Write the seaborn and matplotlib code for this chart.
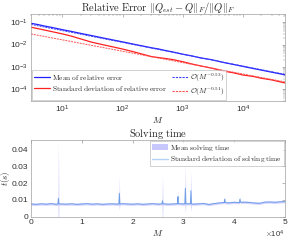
import numpy as np
import pandas as pd
import matplotlib
matplotlib.use("Agg")
import matplotlib.pyplot as plt
import seaborn as sns
from matplotlib.ticker import FuncFormatter
from matplotlib.lines import Line2D
from matplotlib.patches import Patch

# ---------------- data: relative error ----------------
M_err = [3, 4, 5, 7, 10, 14, 20, 30, 50, 70, 100, 150, 200, 300, 400, 500, 700,
         1000, 1500, 2000, 3000, 5000, 7000, 10000, 15000, 20000, 30000, 50000]
mean_err = [0.090, 0.078, 0.068, 0.057, 0.0465, 0.039, 0.0318, 0.0255, 0.0192,
            0.0160, 0.0132, 0.0105, 0.0090, 0.0072, 0.0063, 0.0055, 0.0046,
            0.0037, 0.0030, 0.0025, 0.0021, 0.00153, 0.00128, 0.00105, 0.00084,
            0.00072, 0.00058, 0.00044]
std_err = [0.060, 0.051, 0.045, 0.037, 0.030, 0.024, 0.018, 0.013, 0.0095,
           0.0078, 0.0063, 0.0048, 0.0039, 0.0029, 0.0026, 0.0024, 0.0021,
           0.0017, 0.0013, 0.0011, 0.00088, 0.00063, 0.00054, 0.00043, 0.00037,
           0.00031, 0.00026, 0.00019]
fit_mean_coef, fit_mean_exp = 0.080, -0.53
fit_std_coef, fit_std_exp = 0.030, -0.51
M_fit = [3, 50000]

# ---------------- data: solving time ----------------
M_base = list(range(0, 50001, 1000))
t_base = [0.0076, 0.0074, 0.0077, 0.0075, 0.0078, 0.0074, 0.0076, 0.0075, 0.0077, 0.0074,
          0.0076, 0.0078, 0.0075, 0.0077, 0.0074, 0.0076, 0.0077, 0.0075, 0.0078, 0.0076,
          0.0075, 0.0077, 0.0074, 0.0076, 0.0078, 0.0075, 0.0077, 0.0075, 0.0076, 0.0078,
          0.0076, 0.0077, 0.0075, 0.0077, 0.0079, 0.0073, 0.0078, 0.0082, 0.0085, 0.0083,
          0.0086, 0.0084, 0.0087, 0.0085, 0.0082, 0.0080, 0.0087, 0.0088, 0.0086, 0.0089,
          0.0090]
s_base = [0.0007] * len(M_base)
M_spk = [5300, 5400, 5500, 17300, 17400, 17500, 25800, 25900, 26000, 28850, 28950, 29050,
         30300, 30400, 30500, 31400, 31500, 31600, 38050, 38150, 38250, 41050, 41150, 41250]
t_spk = [0.0076, 0.0110, 0.0076, 0.0076, 0.0140, 0.0076, 0.0077, 0.0095, 0.0077, 0.0078,
         0.0120, 0.0078, 0.0077, 0.0170, 0.0077, 0.0077, 0.0155, 0.0077, 0.0084, 0.0105,
         0.0084, 0.0086, 0.0105, 0.0086]
s_spk = [0.0007, 0.0340, 0.0007, 0.0007, 0.0100, 0.0007, 0.0007, 0.0155, 0.0007, 0.0007,
         0.0050, 0.0007, 0.0007, 0.0150, 0.0007, 0.0007, 0.0125, 0.0007, 0.0007, 0.0015,
         0.0007, 0.0007, 0.0015, 0.0007]

# ---------------- style ----------------
sns.set_theme(style="white")
plt.rcParams["font.family"] = ["Liberation Sans", "DejaVu Sans"]
plt.rcParams["mathtext.fontset"] = "cm"
plt.rcParams["axes.edgecolor"] = "#a0a0a0"
plt.rcParams["axes.linewidth"] = 0.5

fig = plt.figure(figsize=(2.99, 2.40), dpi=100)
ax1 = fig.add_axes([0.1037, 0.580, 0.849, 0.3625])
ax2 = fig.add_axes([0.1037, 0.097, 0.849, 0.321])

C_MEAN, C_STD = "#2020ff", "#ff2020"
C_FM, C_FS = "#4040ff", "#ff5050"
C_BAND, C_LINE = "#c8c8ff", "#6e9ee8"

# ---------------- top panel ----------------
df_err = pd.DataFrame({"M": M_err, "mean": mean_err, "std": std_err})
sns.lineplot(data=df_err, x="M", y="mean", ax=ax1, color=C_MEAN, lw=0.9, legend=False)
sns.lineplot(data=df_err, x="M", y="std", ax=ax1, color=C_STD, lw=0.9, legend=False)
Mf = np.array(M_fit, dtype=float)
ax1.plot(Mf, fit_mean_coef * (Mf / 3.0) ** fit_mean_exp, color=C_FM, ls=(0, (2, 1)), lw=0.7)
ax1.plot(Mf, fit_std_coef * (Mf / 3.0) ** fit_std_exp, color=C_FS, ls=(0, (2, 1)), lw=0.7)
ax1.set_xscale("log")
ax1.set_yscale("log")
ax1.set_xlim(3, 50000)
ax1.set_ylim(3e-5, 0.24)
ax1.set_title(r"$\mathrm{Relative\ Error}\ \|Q_{est}-Q\|_F/\|Q\|_F$", fontsize=7.5, pad=2)
ax1.set_xlabel(r"$M$", fontsize=6.5, labelpad=0)
ax1.set_ylabel("")
h1 = [Line2D([], [], color=C_MEAN, lw=0.9),
      Line2D([], [], color=C_STD, lw=0.9),
      Line2D([], [], color=C_FM, lw=0.8, ls=(0, (2, 1))),
      Line2D([], [], color=C_FS, lw=0.8, ls=(0, (2, 1)))]
l1 = [r"$\mathrm{Mean\ of\ relative\ error}$",
      r"$\mathrm{Standard\ deviation\ of\ relative\ error}$",
      r"$\mathcal{O}(M^{-0.53})$", r"$\mathcal{O}(M^{-0.51})$"]
leg = ax1.legend(h1, l1, ncol=2, loc="lower left",
                 fontsize=5.3, frameon=True, fancybox=False, edgecolor="#b0b0b0",
                 handlelength=2.2, handletextpad=0.3, columnspacing=0.6,
                 borderpad=0.25, labelspacing=0.2, borderaxespad=0.15)
leg.get_frame().set_linewidth(0.5)

# ---------------- bottom panel ----------------
df_t = pd.DataFrame({"M": M_base + M_spk, "mean": t_base + t_spk, "std": s_base + s_spk})
df_t = df_t.sort_values("M").reset_index(drop=True)
ax2.fill_between(df_t["M"], df_t["mean"] - df_t["std"], df_t["mean"] + df_t["std"],
                 color=C_BAND, alpha=0.8, lw=0)
sns.lineplot(data=df_t, x="M", y="mean", ax=ax2, color=C_LINE, lw=0.7, sort=False,
             legend=False)
ax2.set_xlim(0, 50000)
ax2.set_ylim(0, 0.046)
ax2.set_xticks([0, 10000, 20000, 30000, 40000, 50000])
ax2.xaxis.set_major_formatter(FuncFormatter(lambda v, p: f"{v / 1e4:g}"))
ax2.text(1.0, -0.225, r"$\times\mathdefault{10^{4}}$", transform=ax2.transAxes,
         ha="right", va="center", fontsize=5.5, color="#303030")
ax2.set_yticks([0, 0.01, 0.02, 0.03, 0.04])
ax2.set_yticklabels(["0", "0.01", "0.02", "0.03", "0.04"])
ax2.set_title(r"$\mathrm{Solving\ time}$", fontsize=7.5, pad=2)
ax2.set_xlabel(r"$M$", fontsize=6.5, labelpad=1)
ax2.set_ylabel(r"$t(s)$", fontsize=6.5)
ax2.yaxis.set_label_coords(-0.075, 0.5)
h2 = [Patch(facecolor=C_BAND, edgecolor="none"),
      Line2D([], [], color="#b4d4f4", lw=1.0)]
l2 = [r"$\mathrm{Mean\ solving\ time}$", r"$\mathrm{Standard\ deviation\ of\ solving\ time}$"]
leg2 = ax2.legend(h2, l2, loc="upper right", fontsize=5.3, frameon=True, fancybox=False,
                  edgecolor="#b0b0b0", handlelength=2.2, handletextpad=0.3,
                  borderpad=0.25, labelspacing=0.2, borderaxespad=0.15)
leg2.get_frame().set_linewidth(0.5)

for ax in (ax1, ax2):
    ax.tick_params(which="both", direction="in", top=True, right=True,
                   labelsize=6, colors="#303030", pad=2)
    ax.tick_params(which="major", length=2.5, width=0.4, color="#808080")
    ax.tick_params(which="minor", length=1.3, width=0.3, color="#808080")
    for s in ax.spines.values():
        s.set_visible(True)
        s.set_color("#a0a0a0")
        s.set_linewidth(0.5)

fig.savefig("out.png", dpi=100, facecolor="white")
